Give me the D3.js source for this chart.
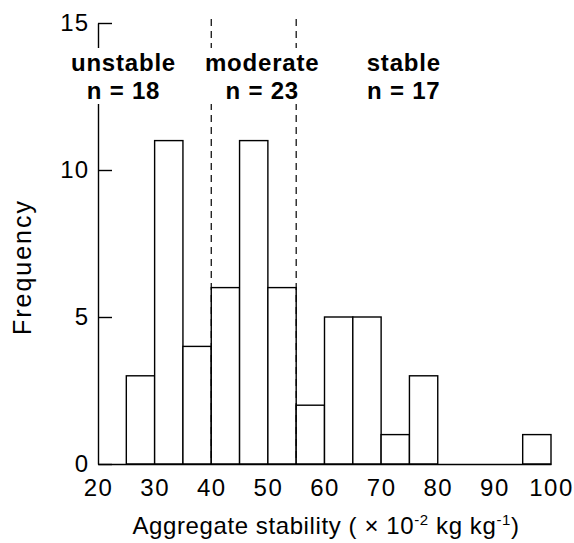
<!DOCTYPE html>
<html>
<head>
<meta charset="utf-8">
<script src="https://cdn.jsdelivr.net/npm/d3@7"></script>
<style>
  html, body { margin: 0; padding: 0; background: #fff; }
  svg { display: block; font-family: "Liberation Sans", Arial, Helvetica, sans-serif; }
</style>
</head>
<body>
<svg id="chart" width="574" height="543"></svg>
<script>
// ---- data ----
const binStarts = [25, 30, 35, 40, 45, 50, 55, 60, 65, 70, 75, 80, 85, 90, 95];
const binWidth = 5;
const frequencies = [3, 11, 4, 6, 11, 6, 2, 5, 5, 1, 3, 0, 0, 0, 1];
const xTicks = [20, 30, 40, 50, 60, 70, 80, 90, 100];
const yTicks = [0, 5, 10, 15];
const classBounds = [40, 55];
const classNames = ["unstable", "moderate", "stable"];
const classCounts = ["n = 18", "n = 23", "n = 17"];
const classCenters = [24.5, 49, 74];

// ---- layout ----
const svg = d3.select("#chart");
const x = d3.scaleLinear().domain([20, 100]).range([98, 551]);
const y = d3.scaleLinear().domain([0, 15]).range([464, 23]);

// bars
svg.append("g").selectAll("rect")
  .data(binStarts.map((b, i) => ({ b, f: frequencies[i] })).filter(d => d.f > 0))
  .join("rect")
  .attr("x", d => x(d.b))
  .attr("y", d => y(d.f))
  .attr("width", d => x(d.b + binWidth) - x(d.b))
  .attr("height", d => y(0) - y(d.f))
  .attr("fill", "#fff")
  .attr("stroke", "#000")
  .attr("stroke-width", 1.4);

// dashed class boundaries
svg.append("g").selectAll("line")
  .data(classBounds)
  .join("line")
  .attr("x1", d => x(d)).attr("x2", d => x(d))
  .attr("y1", y(15) - 4).attr("y2", y(0))
  .attr("stroke", "#000")
  .attr("stroke-width", 1.2)
  .attr("stroke-dasharray", "7,5");

// y axis
const yAxis = d3.axisLeft(y).tickValues(yTicks).tickSize(-14).tickSizeOuter(0).tickPadding(9);
const gy = svg.append("g").attr("transform", "translate(98,0)").call(yAxis);
gy.select(".domain").attr("stroke-width", 1.4);
gy.selectAll(".tick line").attr("stroke-width", 1.4);
gy.selectAll(".tick text").attr("font-size", 24).attr("fill", "#000")
  .attr("font-family", "'Liberation Sans', Arial, sans-serif")
  .attr("letter-spacing", 1);

// x axis
const xAxis = d3.axisBottom(x).tickValues(xTicks).tickSize(0).tickPadding(15).tickSizeOuter(0);
const gx = svg.append("g").attr("transform", `translate(0,${y(0)})`).call(xAxis);
gx.select(".domain").attr("stroke-width", 1.6);
gx.selectAll(".tick text").attr("font-size", 24).attr("fill", "#000")
  .attr("font-family", "'Liberation Sans', Arial, sans-serif")
  .attr("letter-spacing", 1.5);

// class headers with white backing (breaks axis / dashed lines)
const hdr = svg.append("g");
classNames.forEach((name, i) => {
  const cx = x(classCenters[i]);
  const g = hdr.append("g");
  const t = g.append("text")
    .attr("text-anchor", "middle").attr("font-weight", "bold")
    .attr("font-size", 24).attr("letter-spacing", 0.8);
  t.append("tspan").attr("x", cx).attr("y", 71).text(name);
  t.append("tspan").attr("x", cx).attr("y", 99).text(classCounts[i]);
  const b = t.node().getBBox();
  g.insert("rect", "text").attr("x", b.x - 3).attr("y", 48)
    .attr("width", b.width + 6).attr("height", 56).attr("fill", "#fff");
});

// axis titles
svg.append("text")
  .attr("transform", `translate(31,${268}) rotate(-90)`)
  .attr("text-anchor", "middle")
  .attr("font-size", 25)
  .attr("textLength", 134)
  .attr("lengthAdjust", "spacing")
  .text("Frequency");

const xt = svg.append("text")
  .attr("x", 326).attr("y", 534)
  .attr("text-anchor", "middle")
  .attr("font-size", 24)
  .attr("letter-spacing", 0.6);
xt.append("tspan").text("Aggregate stability ( ");
xt.append("tspan").text("×").attr("font-size", 24);
xt.append("tspan").text(" 10");
xt.append("tspan").text("-2").attr("font-size", 15).attr("dy", -9);
xt.append("tspan").text(" kg kg").attr("dy", 9);
xt.append("tspan").text("-1").attr("font-size", 15).attr("dy", -9);
xt.append("tspan").text(")").attr("dy", 9);
</script>
</body>
</html>
